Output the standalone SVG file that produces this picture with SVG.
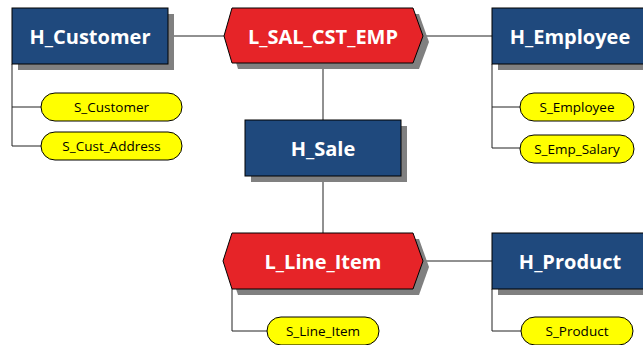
<svg xmlns="http://www.w3.org/2000/svg" width="643" height="345" viewBox="0 0 643 345">
  <style>
    .hub { fill: #1F497D; stroke: #000; stroke-width: 1; }
    .link { fill: #E62428; stroke: #000; stroke-width: 1; }
    .shadow { fill: #808080; }
    .sat { fill: #FFFF00; stroke: #000; stroke-width: 1; }
    .big { font-family: "Open Sans", "Liberation Sans", sans-serif; font-weight: bold; font-size: 20px; fill: #fff; text-anchor: middle; dominant-baseline: central; }
    .small { font-family: "Open Sans", "Liberation Sans", sans-serif; font-size: 13.5px; fill: #000; text-anchor: middle; dominant-baseline: central; }
    .conn { fill: none; stroke: #222; stroke-width: 1; }
  </style>

  <g id="connectors">
    <line class="conn" x1="168" y1="36" x2="224" y2="36"/>
    <line class="conn" x1="423" y1="36" x2="492" y2="36"/>
    <line class="conn" x1="323" y1="63" x2="323" y2="120"/>
    <line class="conn" x1="323" y1="176" x2="323" y2="233"/>
    <line class="conn" x1="423" y1="261" x2="492" y2="261"/>
    <polyline class="conn" points="12,64 12,107 41,107"/>
    <polyline class="conn" points="12,107 12,146 41,146"/>
    <polyline class="conn" points="492,64 492,107 520,107"/>
    <polyline class="conn" points="492,107 492,148 520,148"/>
    <polyline class="conn" points="232,289 232,331 267,331"/>
    <polyline class="conn" points="492,289 492,331 521,331"/>
  </g>

  <g id="H_Customer">
    <rect class="shadow" x="18" y="14" width="156" height="56"/>
    <rect class="hub" x="12" y="8" width="156" height="56"/>
    <text class="big" x="90" y="36">H_Customer</text>
  </g>

  <g id="L_SAL_CST_EMP">
    <polygon class="shadow" points="230,42 238,14 419,14 429,42 419,69 238,69"/>
    <polygon class="link" points="224,36 232,8 413,8 423,36 413,63 232,63"/>
    <text class="big" x="323" y="36">L_SAL_CST_EMP</text>
  </g>

  <g id="H_Employee">
    <rect class="shadow" x="498" y="14" width="156" height="56"/>
    <rect class="hub" x="492" y="8" width="156" height="56"/>
    <text class="big" x="570" y="36">H_Employee</text>
  </g>

  <g id="H_Sale">
    <rect class="shadow" x="251" y="126" width="156" height="56"/>
    <rect class="hub" x="245" y="120" width="156" height="56"/>
    <text class="big" x="323" y="148">H_Sale</text>
  </g>

  <g id="L_Line_Item">
    <polygon class="shadow" points="229,267 238,239 419,239 429,267 419,295 238,295"/>
    <polygon class="link" points="223,261 232,233 413,233 423,261 413,289 232,289"/>
    <text class="big" x="323" y="261">L_Line_Item</text>
  </g>

  <g id="H_Product">
    <rect class="shadow" x="498" y="239" width="156" height="56"/>
    <rect class="hub" x="492" y="233" width="156" height="56"/>
    <text class="big" x="570" y="261">H_Product</text>
  </g>

  <g id="S_Customer">
    <rect class="sat" x="41" y="93" width="141" height="28" rx="14"/>
    <text class="small" x="111.5" y="107">S_Customer</text>
  </g>

  <g id="S_Cust_Address">
    <rect class="sat" x="41" y="132" width="141" height="28" rx="14"/>
    <text class="small" x="111.5" y="146">S_Cust_Address</text>
  </g>

  <g id="S_Employee">
    <rect class="sat" x="520" y="93" width="114" height="28" rx="14"/>
    <text class="small" x="577" y="107">S_Employee</text>
  </g>

  <g id="S_Emp_Salary">
    <rect class="sat" x="520" y="135" width="114" height="28" rx="14"/>
    <text class="small" x="577" y="149">S_Emp_Salary</text>
  </g>

  <g id="S_Line_Item">
    <rect class="sat" x="267" y="317" width="112" height="28" rx="14"/>
    <text class="small" x="323" y="331">S_Line_Item</text>
  </g>

  <g id="S_Product">
    <rect class="sat" x="521" y="317" width="112" height="28" rx="14"/>
    <text class="small" x="577" y="331">S_Product</text>
  </g>
</svg>
